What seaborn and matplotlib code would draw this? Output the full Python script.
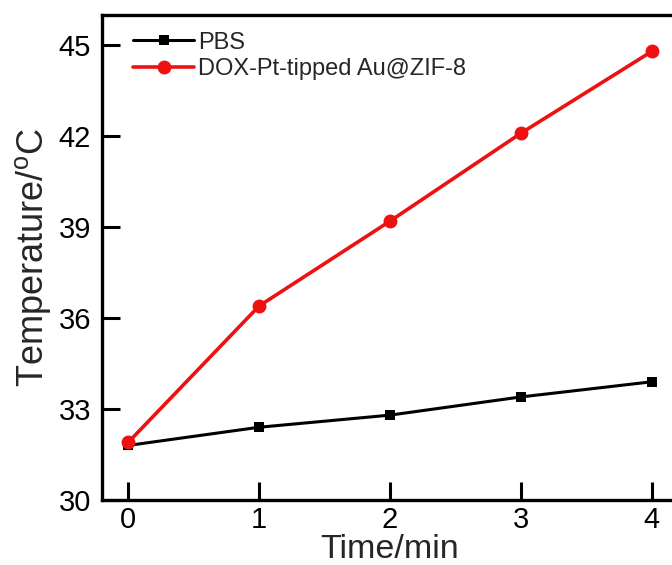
import matplotlib
matplotlib.use("Agg")
import matplotlib.pyplot as plt
import seaborn as sns
import pandas as pd

time_min = [0, 1, 2, 3, 4]
pbs_temp = [31.8, 32.4, 32.8, 33.4, 33.9]
dox_temp = [31.9, 36.4, 39.2, 42.1, 44.8]
series_names = ["PBS", "DOX-Pt-tipped Au@ZIF-8"]
y_ticks = [30, 33, 36, 39, 42, 45]
x_ticks = [0, 1, 2, 3, 4]

sns.set_theme(style="ticks")
plt.rcParams["font.family"] = ["Liberation Sans", "DejaVu Sans"]
plt.rcParams["mathtext.fontset"] = "custom"
plt.rcParams["mathtext.rm"] = "Liberation Sans"
plt.rcParams["mathtext.it"] = "Liberation Sans:italic"

df = pd.DataFrame({
    "Time": time_min * 2,
    "Temp": pbs_temp + dox_temp,
    "Group": [series_names[0]] * 5 + [series_names[1]] * 5,
})

fig = plt.figure(figsize=(6.72, 5.65), dpi=100)
ax = fig.add_axes([102 / 672, 1 - 500 / 565, (678 - 102) / 672, (500 - 15) / 565])

sns.lineplot(data=df[df.Group == series_names[0]], x="Time", y="Temp", ax=ax,
             color="black", marker="s", markersize=7, linewidth=2.2,
             markeredgewidth=0, label=series_names[0])
sns.lineplot(data=df[df.Group == series_names[1]], x="Time", y="Temp", ax=ax,
             color="#ee1111", marker="o", markersize=10, linewidth=2.6,
             markeredgewidth=0, label=series_names[1])

ax.set_xlim(-0.2, 4.2)
ax.set_ylim(30, 46)
ax.set_xticks(x_ticks)
ax.set_yticks(y_ticks)
ax.tick_params(direction="in", length=13, width=2.2, labelsize=21, pad=8, colors="black")
ax.tick_params(axis="x", pad=4)
for s in ax.spines.values():
    s.set_linewidth(2.4)
    s.set_color("black")
ax.set_xlabel("Time/min", fontsize=24.5, labelpad=0)
ax.set_ylabel("Temperature/$\\mathregular{^o}$C", fontsize=26, labelpad=4)

leg = ax.legend(loc="upper left", frameon=False, fontsize=17, handlelength=2.6,
                handletextpad=0.15, labelspacing=0.2, borderaxespad=0.3,
                bbox_to_anchor=(0.025, 1.0))

fig.savefig("out.png", dpi=100)
